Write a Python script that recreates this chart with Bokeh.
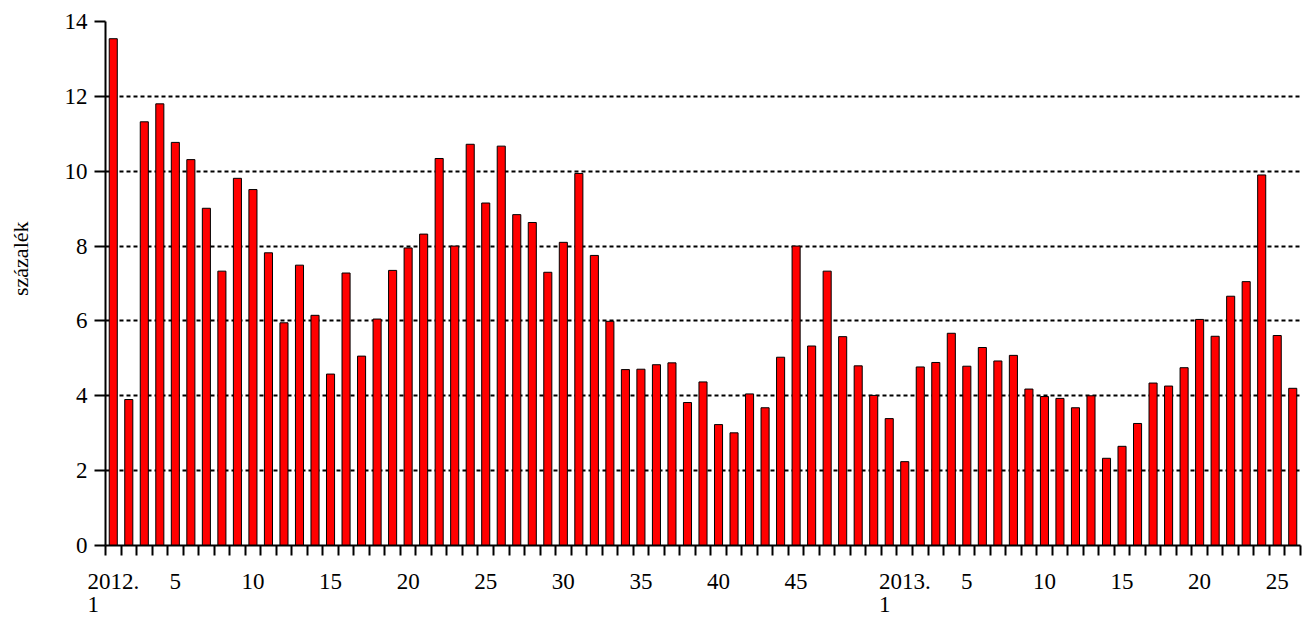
from bokeh.plotting import figure
from bokeh.models import Range1d, FixedTicker
from bokeh.embed import file_html
from bokeh.resources import INLINE

# weekly values, 2012 weeks 1-51 and 2013 weeks 1-26 (percent)
values_2012 = [13.54, 3.90, 11.32, 11.80, 10.77, 10.31, 9.01, 7.33, 9.81, 9.51,
               7.82, 5.95, 7.49, 6.15, 4.58, 7.28, 5.06, 6.05, 7.35, 7.95,
               8.32, 10.34, 8.00, 10.72, 9.15, 10.67, 8.84, 8.63, 7.30, 8.10,
               9.94, 7.75, 5.99, 4.70, 4.71, 4.83, 4.88, 3.82, 4.37, 3.23,
               3.01, 4.05, 3.68, 5.03, 8.00, 5.33, 7.33, 5.58, 4.80, 4.01,
               3.39]
values_2013 = [2.24, 4.77, 4.89, 5.67, 4.79, 5.29, 4.93, 5.08, 4.18, 3.98,
               3.93, 3.68, 4.00, 2.33, 2.65, 3.26, 4.34, 4.26, 4.75, 6.04,
               5.59, 6.66, 7.05, 9.90, 5.61, 4.20]

# labelled weeks -> tick label (year labels wrap: "2012." over "1")
PAD = "\u00a0" * 7   # keeps the wrapped "1" flush left under the year
labels_2012 = {1: "2012.\n1" + PAD, 5: "5", 10: "10", 15: "15", 20: "20",
               25: "25", 30: "30", 35: "35", 40: "40", 45: "45"}
labels_2013 = {1: "2013.\n1" + PAD, 5: "5", 10: "10", 15: "15", 20: "20",
               25: "25"}
y_ticks = [0, 2, 4, 6, 8, 10, 12, 14]
y_label = "százalék"

values = values_2012 + values_2013
n = len(values)
xs = [i + 0.5 for i in range(n)]

major = []
overrides = {}
for w, lab in labels_2012.items():
    pos = (w - 1) + 0.5
    major.append(pos)
    overrides[pos] = lab
off13 = len(values_2012)
for w, lab in labels_2013.items():
    pos = off13 + (w - 1) + 0.5
    major.append(pos)
    overrides[pos] = lab

FONT = "Liberation Serif"
FS = "23px"

p = figure(width=1308, height=620, output_backend="svg", toolbar_location=None,
           x_range=Range1d(0, n), y_range=Range1d(0, 14),
           min_border_left=105, min_border_right=8, min_border_top=21,
           min_border_bottom=72, outline_line_color=None,
           background_fill_color="white", border_fill_color="white")

p.vbar(x=xs, top=values, width=0.52, bottom=0,
       fill_color="#FF0000", line_color="black", line_width=1)

# y axis
p.yaxis.ticker = FixedTicker(ticks=y_ticks)
p.yaxis.axis_line_width = 2
p.yaxis.axis_line_color = "black"
p.yaxis.major_tick_line_width = 2
p.yaxis.major_tick_out = 11
p.yaxis.major_tick_in = 0
p.yaxis.minor_tick_line_color = None
p.yaxis.major_label_standoff = 7
p.yaxis.major_label_text_font = FONT
p.yaxis.major_label_text_font_size = FS
p.yaxis.major_label_text_color = "black"
# leading no-break spaces lift the title a little above the middle, as in the original
p.yaxis.axis_label = "\u00a0" * 9 + y_label
p.yaxis.axis_label_text_font = FONT
p.yaxis.axis_label_text_font_size = "22px"
p.yaxis.axis_label_text_font_style = "normal"
p.yaxis.axis_label_text_color = "black"
p.yaxis.axis_label_standoff = 29

# x axis
p.xaxis.ticker = FixedTicker(ticks=major, minor_ticks=list(range(n + 1)))
p.xaxis.major_label_overrides = overrides
p.xaxis.axis_line_width = 2
p.xaxis.axis_line_color = "black"
p.xaxis.major_tick_line_color = None
p.xaxis.major_tick_out = 10
p.xaxis.major_tick_in = 0
p.xaxis.minor_tick_line_color = "black"
p.xaxis.minor_tick_line_width = 2
p.xaxis.minor_tick_out = 10
p.xaxis.minor_tick_in = 0
p.xaxis.major_label_standoff = 13
p.xaxis.major_label_text_font = FONT
p.xaxis.major_label_text_font_size = FS
p.xaxis.major_label_text_line_height = 0.95
p.xaxis.major_label_text_color = "black"

# grid
p.xgrid.grid_line_color = None
p.ygrid.ticker = FixedTicker(ticks=y_ticks[1:])
p.ygrid.grid_line_color = "black"
p.ygrid.grid_line_width = 2
p.ygrid.grid_line_dash = "4 3"

open("out.html", "w").write(file_html(p, INLINE))
